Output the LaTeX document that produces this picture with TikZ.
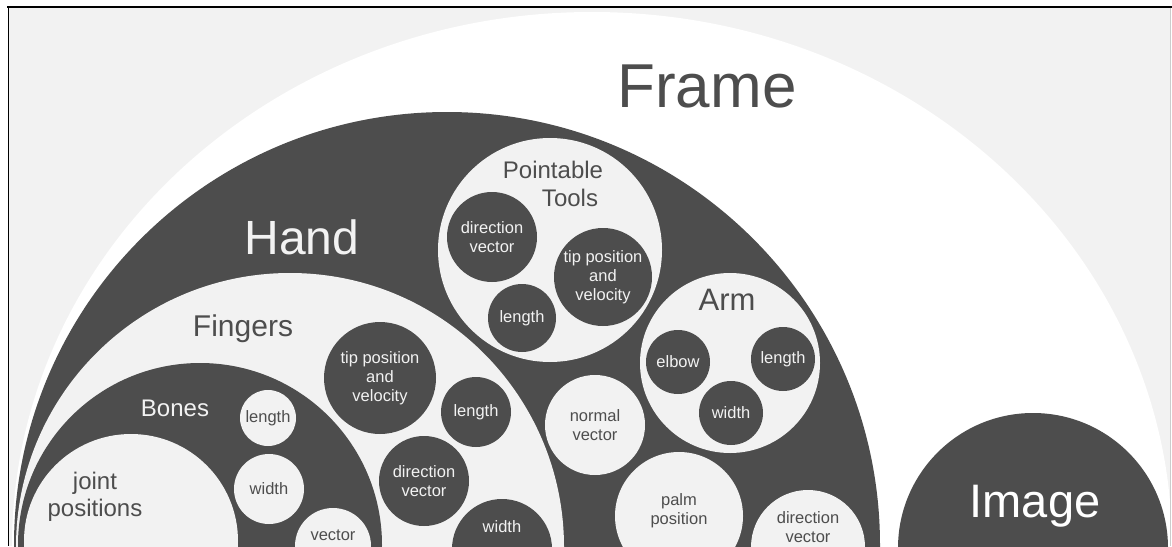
\documentclass[tikz,border=0pt]{standalone}
\usepackage{fontspec}
\setmainfont{Liberation Sans}
\usetikzlibrary{shapes.geometric}
\definecolor{dk}{HTML}{4D4D4D}
\definecolor{lt}{HTML}{F2F2F2}
\tikzset{
  dkball/.style={circle,fill=dk,text=lt,inner sep=0pt,align=center},
  ltball/.style={circle,fill=lt,text=dk,inner sep=0pt,align=center},
  small/.style={font=\fontsize{16.5}{19}\selectfont},
}
\begin{document}
\begin{tikzpicture}[x=1pt,y=-1pt]
  \useasboundingbox (0,0) rectangle (1172,546);
  \fill[lt] (8,7) rectangle (1171,546);
  \begin{scope}
  \clip (8,7) rectangle (1170,546);
  % big rings
  \node[ellipse,fill=white,minimum width=1160pt,minimum height=1068pt,inner sep=0pt] (frame) at (592,546) {};
  \node[dkball,minimum size=866pt] (hand) at (447,545) {};
  \node[ltball,minimum size=548pt] (fingers) at (290,547) {};
  \node[dkball,minimum size=364pt] (bones) at (200,545) {};
  \node[ltball,minimum size=214pt] (joint) at (131,541) {};
  % hand parts
  \node[ltball,minimum size=224pt] (tools) at (550,250) {};
  \node[ltball,minimum size=180pt] (arm) at (730,363) {};
  \node[ltball,small,minimum size=100pt] (normal) at (595,425) {normal\\vector};
  \node[ltball,minimum size=128pt] (palm) at (679,516) {};
  \node[ltball,minimum size=114pt] (hdir) at (808,547) {};
  \node[dkball,minimum size=270pt] (image) at (1033,548) {};
  % pointable tools
  \node[dkball,small,minimum size=90pt] (tdir) at (492,237) {direction\\vector};
  \node[dkball,small,minimum size=98pt] (ttip) at (603,277) {tip position\\and\\velocity};
  \node[dkball,small,minimum size=68pt] (tlen) at (522,318) {length};
  % arm
  \node[dkball,small,minimum size=64pt] (elbow) at (678,362) {elbow};
  \node[dkball,small,minimum size=64pt] (alen) at (783,359) {length};
  \node[dkball,small,minimum size=64pt] (awid) at (731,413) {width};
  % fingers
  \node[dkball,small,minimum size=112pt] (ftip) at (380,378) {tip position\\and\\velocity};
  \node[dkball,small,minimum size=70pt] (flen) at (476,412) {length};
  \node[dkball,small,minimum size=90pt] (fdir) at (424,481) {direction\\vector};
  \node[dkball,minimum size=100pt] (fwid) at (502,549) {};
  % bones
  \node[ltball,small,minimum size=56pt] (blen) at (268,418) {length};
  \node[ltball,small,minimum size=70pt] (bwid) at (269,489) {width};
  \node[ltball,minimum size=76pt] (bvec) at (333,546) {};
  \end{scope}
  % labels
  \node[anchor=base,text=dk,font=\fontsize{62}{62}\selectfont] (frametxt) at (707,107) {Frame};
  \node[anchor=base,text=lt,font=\fontsize{48}{48}\selectfont] (handtxt) at (302,254) {Hand};
  \node[anchor=base,text=dk,font=\fontsize{30}{30}\selectfont] (fingtxt) at (243,336) {Fingers};
  \node[anchor=base,text=lt,font=\fontsize{24}{24}\selectfont] (bonetxt) at (175,416) {Bones};
  \node[text=dk,align=center,font=\fontsize{24}{27}\selectfont] (jointtxt) at (95,497) {joint\\positions};
  \node[anchor=base,text=dk,font=\fontsize{24}{24}\selectfont] (tooltxt1) at (553,178) {Pointable};
  \node[anchor=base,text=dk,font=\fontsize{24}{24}\selectfont] (tooltxt2) at (570,206) {Tools};
  \node[anchor=base,text=dk,font=\fontsize{31}{31}\selectfont] (armtxt) at (727,310) {Arm};
  \node[anchor=base,text=white,font=\fontsize{47}{47}\selectfont] (imagetxt) at (1035,517) {Image};
  \node[small,text=dk,align=center] (palmtxt) at (679,511) {palm\\position};
  \node[small,text=dk,align=center] (hdirtxt) at (808,527) {direction\\vector};
  \node[small,text=lt] (fwidtxt) at (502,527) {width};
  \node[small,text=dk] (bvectxt) at (333,535) {vector};
  % border
  \draw[line width=1.6pt] (7,6.7) -- (1172,6.7);
  \draw[line width=1.6pt] (8.3,6) -- (8.3,546);
  \draw[black!20] (1170.5,7.5) -- (1170.5,546);
\end{tikzpicture}
\end{document}
